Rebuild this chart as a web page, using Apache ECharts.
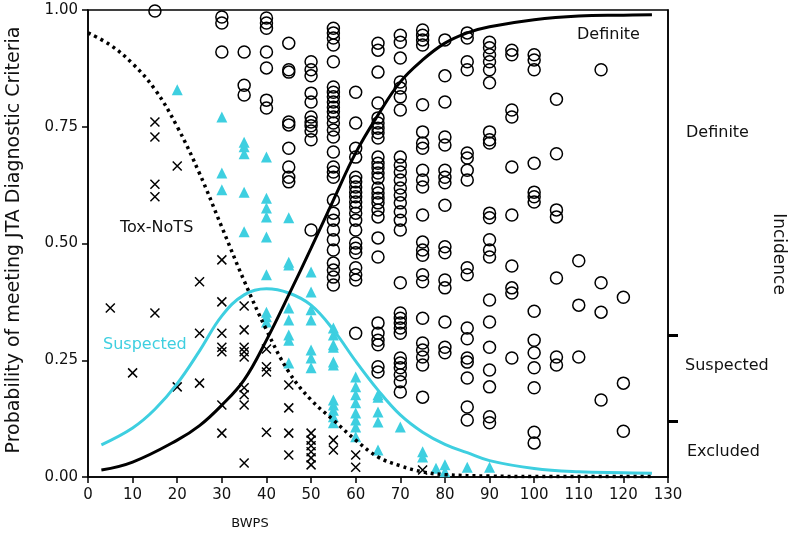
<!DOCTYPE html>
<html><head><meta charset="utf-8">
<script src="https://cdn.jsdelivr.net/npm/echarts@6/dist/echarts.min.js"></script>
<style>html,body{margin:0;padding:0;background:#fff}#c{width:788px;height:540px}</style>
</head><body><div id="c"></div>
<script>
// ---- data ----
var xTicks = [0,10,20,30,40,50,60,70,80,90,100,110,120,130];
var yTicks = [0,0.25,0.5,0.75,1];
var incidenceTicks = [0.12, 0.303];
var incidenceLabels = ['Definite','Suspected','Excluded'];

// Definite cases (circles): [BWPS, probabilities...]
var definiteCols = [
 [15,[0.998]],
 [30,[0.985,0.972,0.910]],
 [35,[0.910,0.839,0.818]],
 [40,[0.983,0.972,0.961,0.910,0.876,0.807,0.790]],
 [45,[0.929,0.872,0.867,0.760,0.754,0.704,0.664,0.642,0.632]],
 [50,[0.889,0.872,0.859,0.822,0.803,0.771,0.760,0.752,0.741,0.722,0.529]],
 [55,[0.961,0.951,0.940,0.925,0.889,0.835,0.824,0.814,0.803,0.792,0.782,0.771,0.758,0.743,0.728,0.696,0.664,0.653,0.642,0.593,0.565,0.550,0.529,0.508,0.486,0.458,0.443,0.428,0.411]],
 [60,[0.824,0.758,0.704,0.685,0.642,0.632,0.621,0.610,0.600,0.589,0.578,0.565,0.550,0.529,0.501,0.490,0.480,0.448,0.433,0.422,0.308]],
 [65,[0.929,0.914,0.867,0.801,0.769,0.758,0.747,0.737,0.726,0.685,0.672,0.662,0.651,0.640,0.619,0.608,0.597,0.587,0.572,0.557,0.512,0.471,0.330,0.308,0.293,0.283,0.236,0.225]],
 [70,[0.946,0.931,0.897,0.846,0.833,0.814,0.786,0.685,0.668,0.653,0.636,0.619,0.604,0.587,0.568,0.550,0.529,0.416,0.351,0.340,0.330,0.319,0.308,0.255,0.244,0.234,0.219,0.204,0.182]],
 [75,[0.957,0.946,0.936,0.925,0.797,0.739,0.715,0.704,0.657,0.636,0.621,0.561,0.503,0.486,0.475,0.433,0.418,0.340,0.287,0.272,0.257,0.240,0.171]],
 [80,[0.936,0.859,0.803,0.728,0.711,0.657,0.642,0.630,0.582,0.493,0.480,0.422,0.405,0.332,0.278,0.266]],
 [85,[0.951,0.940,0.889,0.872,0.694,0.683,0.657,0.636,0.448,0.433,0.319,0.296,0.255,0.246,0.212,0.150,0.122]],
 [90,[0.931,0.919,0.904,0.889,0.872,0.844,0.739,0.722,0.715,0.565,0.555,0.508,0.486,0.471,0.379,0.332,0.278,0.229,0.193,0.129,0.116]],
 [95,[0.914,0.904,0.786,0.771,0.664,0.561,0.452,0.405,0.394,0.255]],
 [100,[0.904,0.893,0.872,0.672,0.610,0.600,0.589,0.355,0.293,0.266,0.234,0.191,0.096,0.073]],
 [105,[0.809,0.692,0.572,0.557,0.426,0.257,0.240]],
 [110,[0.463,0.368,0.257]],
 [115,[0.872,0.416,0.353,0.165]],
 [120,[0.385,0.201,0.098]]
];
// Suspected cases (triangles)
var suspectedCols = [
 [20,[0.829]],
 [30,[0.771,0.651,0.615]],
 [35,[0.717,0.707,0.692,0.610,0.525]],
 [40,[0.685,0.597,0.576,0.557,0.514,0.433,0.353,0.343,0.332]],
 [45,[0.555,0.460,0.454,0.362,0.336,0.304,0.293,0.244]],
 [50,[0.439,0.396,0.358,0.336,0.272,0.255,0.234]],
 [55,[0.319,0.304,0.283,0.278,0.246,0.240,0.165,0.154,0.143,0.129,0.116]],
 [60,[0.214,0.193,0.176,0.159,0.137,0.122,0.107,0.086]],
 [65,[0.176,0.171,0.139,0.118,0.058]],
 [70,[0.107]],
 [75,[0.054,0.043]],
 [78,[0.019]],
 [80,[0.026,0.011]],
 [85,[0.021]],
 [90,[0.021]]
];
// Excluded cases (crosses)
var excludedCols = [
 [5,[0.362]],
 [10,[0.223]],
 [15,[0.760,0.728,0.627,0.600,0.351]],
 [20,[0.666,0.193]],
 [25,[0.418,0.308,0.201]],
 [30,[0.465,0.375,0.308,0.278,0.268,0.154,0.094]],
 [35,[0.366,0.315,0.278,0.268,0.257,0.191,0.176,0.154,0.030]],
 [40,[0.274,0.236,0.225,0.096]],
 [45,[0.197,0.148,0.094,0.047]],
 [50,[0.094,0.079,0.067,0.054,0.041,0.026]],
 [55,[0.079,0.058]],
 [60,[0.047,0.021]],
 [75,[0.015]]
];
// fitted curves
var definiteCurve = [[3,0.015],[10,0.032],[20,0.079],[25,0.11],[30,0.154],[35,0.208],[40,0.293],[45,0.39],[50,0.49],[55,0.593],[60,0.694],[65,0.775],[70,0.846],[75,0.893],[80,0.929],[85,0.951],[90,0.964],[100,0.979],[110,0.987],[120,0.989],[126.4,0.99]];
var suspectedCurve = [[3,0.069],[10,0.105],[15,0.145],[20,0.2],[25,0.27],[30,0.345],[35,0.39],[40,0.403],[45,0.394],[50,0.368],[55,0.315],[60,0.248],[65,0.186],[70,0.133],[75,0.096],[80,0.07],[85,0.052],[90,0.035],[100,0.018],[110,0.011],[120,0.009],[126.4,0.008]];
var toxCurve = [[0,0.951],[5,0.925],[10,0.885],[15,0.83],[20,0.75],[25,0.65],[30,0.535],[35,0.42],[40,0.315],[45,0.225],[50,0.165],[55,0.122],[60,0.079],[65,0.043],[70,0.024],[75,0.011],[80,0.005],[90,0.002],[100,0.001],[126.4,0.001]];

function flat(cols){var out=[];cols.forEach(function(c){c[1].forEach(function(v){out.push([c[0],v]);});});return out;}

var CYAN = '#3ecfe0';
var FONT = 'DejaVu Sans';
var chart = echarts.init(document.getElementById('c'), null, {renderer:'canvas'});
chart.setOption({
  animation:false,
  backgroundColor:'#fff',
  grid:{left:88,right:120,top:10,bottom:63,show:true,borderColor:'#000',borderWidth:1.5,backgroundColor:'transparent'},
  xAxis:{type:'value',min:0,max:130,interval:10,
    axisLine:{show:true,onZero:false,lineStyle:{color:'#000',width:1.5}},
    axisTick:{show:true,length:6,lineStyle:{color:'#000',width:1.5}},
    axisLabel:{color:'#111',fontFamily:FONT,fontSize:15,margin:11},
    splitLine:{show:false}},
  yAxis:[{type:'value',min:0,max:1,interval:0.25,
    axisLine:{show:true,lineStyle:{color:'#000',width:1.5}},
    axisTick:{show:true,length:6,lineStyle:{color:'#000',width:1.5}},
    axisLabel:{color:'#111',fontFamily:FONT,fontSize:15,margin:10,formatter:function(v){return v.toFixed(2);}},
    splitLine:{show:false}},
   {type:'value',min:0,max:1,position:'right',
    axisLine:{show:true,lineStyle:{color:'#000',width:1.5}},
    axisTick:{show:true,length:10,customValues:incidenceTicks,lineStyle:{color:'#000',width:3}},
    axisLabel:{show:false},
    splitLine:{show:false}}],
  graphic:[
    {type:'text',x:14,y:240,rotation:Math.PI/2,style:{text:'Probability of meeting JTA Diagnostic Criteria',fontFamily:FONT,fontSize:19,fill:'#111',textAlign:'center',textVerticalAlign:'middle'}},
    {type:'text',x:250,y:524,style:{text:'BWPS',fontFamily:FONT,fontSize:13,fill:'#111',textAlign:'center',textVerticalAlign:'middle'}},
    {type:'text',x:778,y:254,rotation:-Math.PI/2,style:{text:'Incidence',fontFamily:FONT,fontSize:17,fill:'#111',textAlign:'center',textVerticalAlign:'middle'}},
    {type:'text',x:686,y:133,style:{text:incidenceLabels[0],fontFamily:FONT,fontSize:16,fill:'#111',textVerticalAlign:'middle'}},
    {type:'text',x:685,y:366,style:{text:incidenceLabels[1],fontFamily:FONT,fontSize:16,fill:'#111',textVerticalAlign:'middle'}},
    {type:'text',x:687,y:452,style:{text:incidenceLabels[2],fontFamily:FONT,fontSize:16,fill:'#111',textVerticalAlign:'middle'}},
    {type:'text',x:120,y:228,style:{text:'Tox-NoTS',fontFamily:FONT,fontSize:16,fill:'#111',textVerticalAlign:'middle'}},
    {type:'text',x:103,y:345,style:{text:'Suspected',fontFamily:FONT,fontSize:16,fill:CYAN,textVerticalAlign:'middle'}},
    {type:'text',x:577,y:35,style:{text:'Definite',fontFamily:FONT,fontSize:16,fill:'#111',textVerticalAlign:'middle'}}
  ],
  series:[
    {type:'scatter',name:'Definite',data:flat(definiteCols),symbol:'circle',symbolSize:12,
      itemStyle:{color:'rgba(0,0,0,0)',borderColor:'#000',borderWidth:1.5,opacity:1},z:2},
    {type:'scatter',name:'Suspected',data:flat(suspectedCols),symbol:'triangle',symbolSize:11,
      itemStyle:{color:CYAN,opacity:1},z:3},
    {type:'scatter',name:'Excluded',data:flat(excludedCols),symbol:'path://M0,0L10,10M10,0L0,10',symbolSize:9,
      itemStyle:{color:'none',borderColor:'#000',borderWidth:1.5,opacity:1},z:3},
    {type:'line',name:'Suspected fit',data:suspectedCurve,smooth:0.4,showSymbol:false,lineStyle:{color:CYAN,width:3},z:4},
    {type:'line',name:'Tox-NoTS fit',data:toxCurve,smooth:0.4,showSymbol:false,lineStyle:{color:'#000',width:3.5,type:[3,4]},z:4},
    {type:'line',name:'Definite fit',data:definiteCurve,smooth:0.4,showSymbol:false,lineStyle:{color:'#000',width:3},z:5}
  ]
});
</script></body></html>
